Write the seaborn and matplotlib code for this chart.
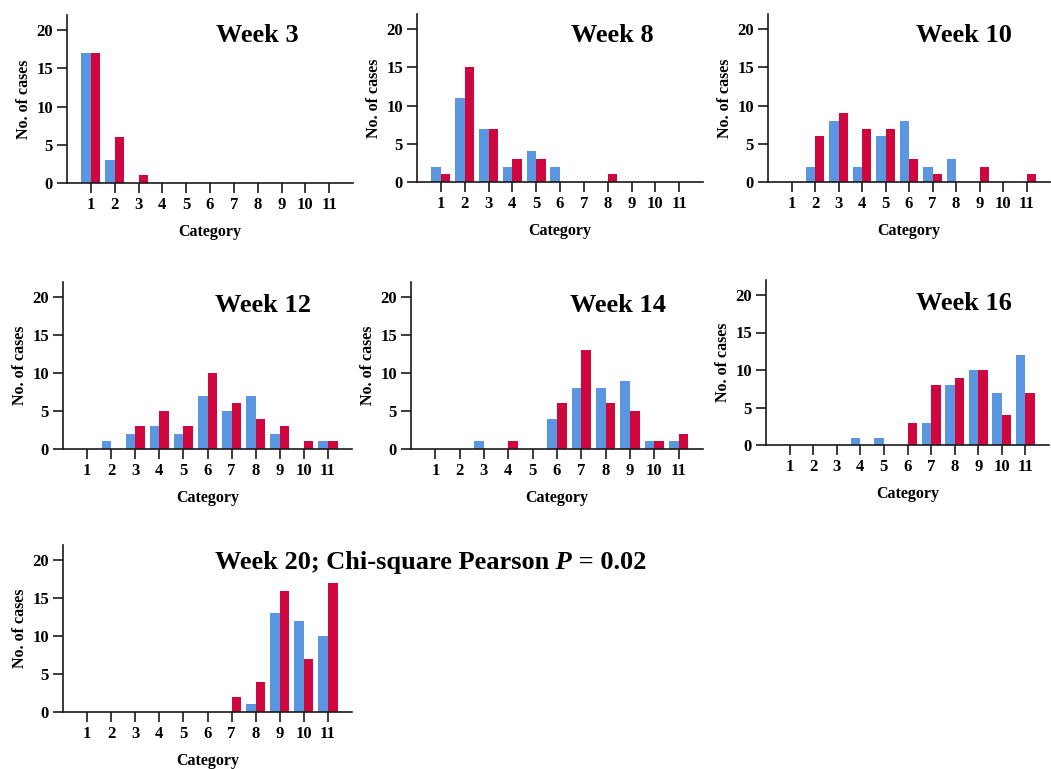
import numpy as np
import pandas as pd
import matplotlib
matplotlib.use("Agg")
import matplotlib.pyplot as plt
import seaborn as sns

# ---------------- data ----------------
categories = ["1", "2", "3", "4", "5", "6", "7", "8", "9", "10", "11"]
groups = ["Group A", "Group B"]

week3_a = [17, 3, 0, 0, 0, 0, 0, 0, 0, 0, 0]
week3_b = [17, 6, 1, 0, 0, 0, 0, 0, 0, 0, 0]
week8_a = [2, 11, 7, 2, 4, 2, 0, 0, 0, 0, 0]
week8_b = [1, 15, 7, 3, 3, 0, 0, 1, 0, 0, 0]
week10_a = [0, 2, 8, 2, 6, 8, 2, 3, 0, 0, 0]
week10_b = [0, 6, 9, 7, 7, 3, 1, 0, 2, 0, 1]
week12_a = [0, 1, 2, 3, 2, 7, 5, 7, 2, 0, 1]
week12_b = [0, 0, 3, 5, 3, 10, 6, 4, 3, 1, 1]
week14_a = [0, 0, 1, 0, 0, 4, 8, 8, 9, 1, 1]
week14_b = [0, 0, 0, 1, 0, 6, 13, 6, 5, 1, 2]
week16_a = [0, 0, 0, 1, 1, 0, 3, 8, 10, 7, 12]
week16_b = [0, 0, 0, 0, 0, 3, 8, 9, 10, 4, 7]
week20_a = [0, 0, 0, 0, 0, 0, 0, 1, 13, 12, 10]
week20_b = [0, 0, 0, 0, 0, 0, 2, 4, 16, 7, 17]

titles = ["Week 3", "Week 8", "Week 10", "Week 12", "Week 14", "Week 16", "Week 20"]
series_a = [week3_a, week8_a, week10_a, week12_a, week14_a, week16_a, week20_a]
series_b = [week3_b, week8_b, week10_b, week12_b, week14_b, week16_b, week20_b]
y_ticks = [0, 5, 10, 15, 20]

# ---------------- style ----------------
sns.set_style("white")
plt.rcParams["font.family"] = ["Liberation Serif", "DejaVu Serif"]
plt.rcParams["font.weight"] = "bold"
plt.rcParams["text.color"] = "black"
plt.rcParams["axes.labelcolor"] = "black"
plt.rcParams["xtick.color"] = "black"
plt.rcParams["ytick.color"] = "black"

BLUE = "#5B96E0"
RED = "#D0063F"

W, H = 1051, 769
fig = plt.figure(figsize=(W / 100, H / 100), dpi=100)

# axes boxes in pixels: left, right, top(y=22), bottom(y=0)
boxes = [
    (67, 353, 15, 183),
    (417, 703, 14, 182),
    (768, 1050, 14, 182),
    (63, 352, 282, 449),
    (411, 703, 282, 449),
    (766, 1049, 280, 445),
    (63, 352, 545, 712),
]
# title centres in pixels
title_pos = [(257, 35), (612, 35), (964, 35), (263, 305), (618, 305), (964, 303)]

for i, (title, a, b) in enumerate(zip(titles, series_a, series_b)):
    l, r, t, btm = boxes[i]
    ax = fig.add_axes([l / W, 1 - btm / H, (r - l) / W, (btm - t) / H])
    df = pd.DataFrame({
        "Category": categories * 2,
        "Cases": list(a) + list(b),
        "Group": [groups[0]] * len(categories) + [groups[1]] * len(categories),
    })
    sns.barplot(data=df, x="Category", y="Cases", hue="Group", order=categories,
                hue_order=groups, palette=[BLUE, RED], width=0.8, gap=0,
                saturation=1, legend=False, ax=ax, errorbar=None,
                linewidth=0, edgecolor="none")
    ax.set_xlim(-1, len(categories))
    ax.set_ylim(0, 22)
    ax.set_yticks(y_ticks)
    sns.despine(ax=ax)
    for s in ["left", "bottom"]:
        ax.spines[s].set_linewidth(1.2)
        ax.spines[s].set_color("#1a1a1a")
    ax.tick_params(axis="both", which="major", direction="out", length=7,
                   width=1.2, color="#1a1a1a", labelsize=12, pad=3,
                   bottom=True, left=True)
    for lab in ax.get_xticklabels() + ax.get_yticklabels():
        lab.set_fontweight("bold")
    ax.set_xlabel("Category", fontsize=11.5, fontweight="bold", labelpad=8)
    ax.set_ylabel("No. of cases", fontsize=11.5, fontweight="bold", labelpad=3)
    ax.set_facecolor("white")

    if i < 6:
        x, y = title_pos[i]
        fig.text(x / W, 1 - y / H, title, ha="center", va="center",
                 fontsize=19, fontweight="bold")
    else:
        t1 = fig.text(215 / W, 1 - 569 / H, "Week 20; Chi-square Pearson",
                      ha="left", va="baseline", fontsize=19, fontweight="bold")
        t2 = ax.annotate(" P", xy=(1, 0), xycoords=t1, ha="left", va="bottom",
                         fontsize=19, fontweight="bold", style="italic",
                         annotation_clip=False)
        t3 = ax.annotate(" = 0.02", xy=(1, 0), xycoords=t2, ha="left", va="bottom",
                         fontsize=19, fontweight="bold", annotation_clip=False)

fig.savefig("out.png", dpi=100, facecolor="white")
